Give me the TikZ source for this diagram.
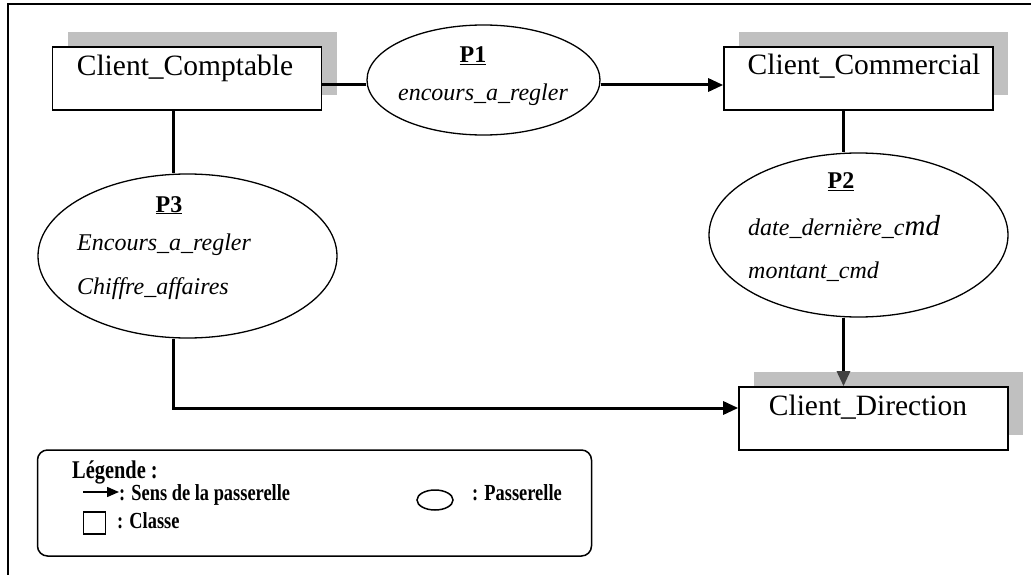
\documentclass[tikz,border=0pt]{standalone}
\usepackage{fontspec}
\setmainfont{Liberation Serif}
\newfontfamily\legfont[FakeStretch=0.8]{Liberation Serif}
\usetikzlibrary{shapes.geometric,arrows.meta,shadows}
\definecolor{shadowgray}{RGB}{192,192,192}
\definecolor{headgray}{RGB}{64,64,64}
\tikzset{
  classbox/.style={draw, line width=1.6pt, fill=white, inner sep=0pt,
    minimum width=269pt, minimum height=63pt,
    drop shadow={shadow xshift=15pt, shadow yshift=15pt, fill=shadowgray, opacity=1}},
  classname/.style={font=\fontsize{29.5}{30}\selectfont, inner sep=0pt, anchor=base},
  passerelle/.style={draw, ellipse, line width=1.3pt, fill=white, inner sep=0pt,
    minimum width=299pt, minimum height=164pt},
  ptitle/.style={font=\fontsize{24}{24}\selectfont\bfseries, inner sep=0pt, anchor=base},
  attr/.style={font=\fontsize{24}{24}\selectfont\itshape, inner sep=0pt, anchor=base west},
  link/.style={line width=3pt},
  flow/.style={line width=3pt, -{Triangle[length=15pt,width=13pt]}},
  flowgray/.style={line width=3pt, -{Triangle[length=15pt,width=13pt,color=headgray]}},
  legtext/.style={font=\legfont\bfseries\fontsize{23}{24}\selectfont, inner sep=0pt, anchor=base west},
  legarrow/.style={line width=1.5pt, -{Triangle[length=12pt,width=10pt]}},
}
\begin{document}
\begin{tikzpicture}[x=1pt, y=-1pt]
\useasboundingbox (0,0) rectangle (1031,575);

% outer frame (top and left edges)
\draw[line width=2pt] (8,575) -- (8,4) -- (1031,4);

% classes
\node[classbox] (cc) at (187,78.5) {};
\node[classname] (cctext) at (185,76) {Client\_Comptable};
\node[classbox] (cm) at (858.5,78.5) {};
\node[classname] (cmtext) at (864,75) {Client\_Commercial};
\node[classbox] (cd) at (873.5,418.5) {};
\node[classname] (cdtext) at (868,415) {Client\_Direction};

% passerelles
\node[passerelle, minimum width=233pt, minimum height=110pt] (p1) at (483.5,80) {};
\node[ptitle] (p1title) at (473,63) {\underline{P1}};
\node[attr, anchor=base] (p1a) at (483,101) {encours\_a\_regler};

\node[passerelle] (p2) at (858.5,235) {};
\node[ptitle] (p2title) at (841,189) {\underline{P2}};
\node[attr] (p2a) at (748,235) {date\_dernière\_c{\fontsize{29}{29}\selectfont md}};
\node[attr] (p2b) at (748,278) {montant\_cmd};

\node[passerelle] (p3) at (187.5,256) {};
\node[ptitle] (p3title) at (169,212) {\underline{P3}};
\node[attr] (p3a) at (77,250) {Encours\_a\_regler};
\node[attr] (p3b) at (77,294) {Chiffre\_affaires};

% connectors
\draw[link] ([yshift=-6.5pt]cc.east) -- ([yshift=-6.5pt]cc.east -| p1.west);
\draw[flow] ([yshift=-5pt]p1.east) -- ([yshift=-5pt]p1.east -| cm.west);
\draw[link] ([xshift=-14pt]cc.south) -- ([xshift=-14pt]cc.south |- p3.north);
\draw[flow] ([xshift=-14.5pt]p3.south) |- ([yshift=10.5pt]cd.west);
\draw[link] ([xshift=-15.5pt]cm.south) -- ([xshift=-15.5pt]cm.south |- p2.north);
\draw[flowgray] ([xshift=-15pt]p2.south) -- ([xshift=-15pt]p2.south |- cd.north);

% legend
\node[draw, line width=1.5pt, rounded corners=10pt, inner sep=0pt,
  minimum width=554pt, minimum height=106pt] (legend) at (314.5,503) {};
\node[legtext, font=\legfont\bfseries\fontsize{25.5}{26}\selectfont] (legtitle) at (72,478) {Légende :};
\coordinate (la0) at (83,492);
\coordinate (la1) at (119,492);
\draw[legarrow] (la0) -- (la1);
\node[legtext] (legsens) at (119,500) {: Sens de la passerelle};
\node[draw, line width=1.2pt, minimum size=22pt, inner sep=0pt] (legclass) at (94.5,523) {};
\node[legtext] (legclasse) at (117,528) {: Classe};
\node[draw, ellipse, line width=1.5pt, minimum width=36pt, minimum height=20pt, inner sep=0pt] (legpass) at (435,500) {};
\node[legtext] (legpasse) at (472,500) {: Passerelle};
\end{tikzpicture}
\end{document}
